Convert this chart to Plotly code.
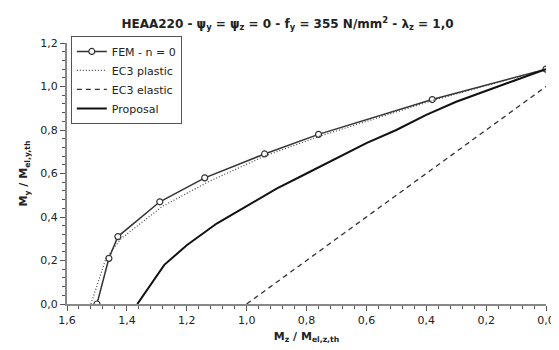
import plotly.graph_objects as go

# FEM - n = 0
fem_x = [1.50, 1.46, 1.43, 1.29, 1.14, 0.94, 0.76, 0.38, 0.0]
fem_y = [0.0, 0.21, 0.31, 0.47, 0.58, 0.69, 0.78, 0.94, 1.08]

# EC3 plastic
pl_x = [1.52, 1.47, 1.42, 1.28, 1.13, 0.94, 0.76, 0.38, 0.0]
pl_y = [0.0, 0.21, 0.30, 0.45, 0.56, 0.68, 0.77, 0.935, 1.08]

# EC3 elastic
el_x = [1.0, 0.0]
el_y = [0.0, 1.0]

# Proposal
pr_x = [1.365, 1.275, 1.2, 1.1, 1.0, 0.9, 0.8, 0.7, 0.6, 0.5, 0.4, 0.3, 0.2, 0.1, 0.0]
pr_y = [0.0, 0.18, 0.27, 0.37, 0.45, 0.53, 0.60, 0.67, 0.74, 0.80, 0.87, 0.93, 0.98, 1.03, 1.08]

FONT = "DejaVu Sans"

fig = go.Figure()
fig.add_trace(go.Scatter(x=fem_x, y=fem_y, mode="lines+markers", name="FEM - n = 0",
                         line=dict(color="#333333", width=1.5),
                         marker=dict(symbol="circle", size=6, color="white",
                                     line=dict(color="#333333", width=1.2))))
fig.add_trace(go.Scatter(x=pl_x, y=pl_y, mode="lines", name="EC3 plastic",
                         line=dict(color="#444444", width=1.2, dash="1px,2px")))
fig.add_trace(go.Scatter(x=el_x, y=el_y, mode="lines", name="EC3 elastic",
                         line=dict(color="#333333", width=1.3, dash="5px,4px")))
fig.add_trace(go.Scatter(x=pr_x, y=pr_y, mode="lines", name="Proposal",
                         line=dict(color="#111111", width=2)))

fig.update_layout(
    width=559, height=350,
    margin=dict(l=59, r=13, t=35, b=54),
    plot_bgcolor="white", paper_bgcolor="white",
    separators=",.",
    font=dict(family=FONT, size=11, color="#222222"),
    title=dict(text="<b>HEAA220 - ψ<sub>y</sub> = ψ<sub>z</sub> = 0 - f<sub>y</sub> = 355 N/mm<sup>2</sup> - λ<sub>z</sub> = 1,0</b>",
               x=0.5, xanchor="center", y=0.955, yanchor="middle",
               font=dict(family=FONT, size=12, color="#222222")),
    showlegend=True,
    legend=dict(x=0.008, y=1.027, xanchor="left", yanchor="top",
                bgcolor="white", bordercolor="#555555", borderwidth=1,
                font=dict(family=FONT, size=11), tracegroupgap=0,
                itemwidth=30),
)

fig.update_xaxes(range=[1.6, 0.0], autorange=False, dtick=0.2, tick0=0, tickformat=".1f",
                 showgrid=False, zeroline=False, showline=True, linecolor="#888888", linewidth=2,
                 ticks="outside", ticklen=5, tickcolor="#555555",
                 minor=dict(dtick=0.04, ticks="outside", ticklen=3, tickcolor="#555555", showgrid=False),
                 title=dict(text="<b>M<sub>z</sub> / M<sub>el,z,th</sub></b>", standoff=6,
                            font=dict(family=FONT, size=11)))
fig.update_yaxes(range=[0, 1.2], autorange=False, dtick=0.2, tick0=0, tickformat=".1f",
                 showgrid=False, zeroline=False, showline=True, linecolor="#888888", linewidth=2,
                 ticks="outside", ticklen=5, tickcolor="#555555",
                 minor=dict(dtick=0.04, ticks="outside", ticklen=3, tickcolor="#555555", showgrid=False),
                 title=dict(text="<b>M<sub>y</sub> / M<sub>el,y,th</sub></b>", standoff=10,
                            font=dict(family=FONT, size=11)))

fig.write_html("out.html")
